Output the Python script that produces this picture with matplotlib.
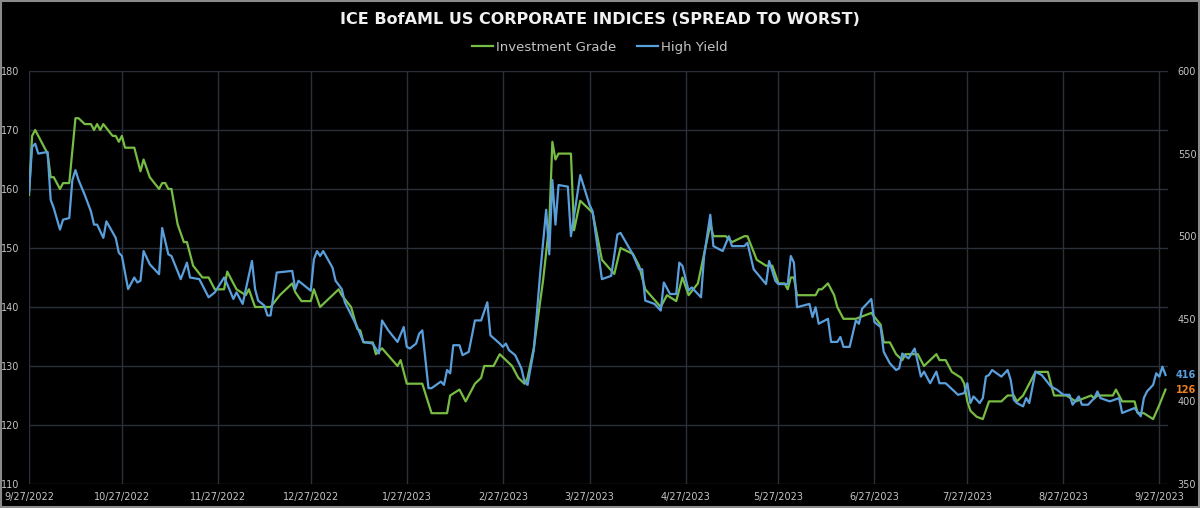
import matplotlib
matplotlib.use('Agg')
import matplotlib.pyplot as plt
from matplotlib.patches import Rectangle
import pandas as pd

START = pd.Timestamp('2022-09-27')

# day offsets from 9/27/2022 and spread values (bp)
IG_DAY = [0, 1, 2, 4, 6, 7, 8, 10, 11, 13, 15, 16, 18, 20, 21, 22, 23, 24, 27, 28,
          29, 30, 31, 34, 36, 37, 39, 42, 43, 44, 45, 46, 48, 50, 51, 53, 56, 58, 60, 63,
          64, 66, 67, 70, 71, 73, 78, 81, 83, 85, 86, 88, 91, 92, 94, 96, 98, 100, 101, 104,
          106, 107, 108, 111, 112, 114, 119, 120, 122, 127, 130, 135, 136, 139, 141, 144, 146, 147, 150, 152,
          154, 156, 158, 160, 161, 163, 166, 168, 169, 170, 171, 175, 176, 178, 182, 185, 189, 191, 195, 197,
          199, 204, 206, 209, 211, 213, 216, 218, 220, 221, 225, 227, 231, 232, 235, 238, 240, 242, 244, 245,
          246, 247, 248, 254, 255, 256, 258, 260, 261, 263, 267, 272, 275, 276, 278, 280, 282, 283, 287, 289,
          291, 293, 294, 296, 298, 301, 302, 303, 304, 306, 308, 310, 314, 316, 318, 319, 321, 325, 329, 331,
          335, 338, 343, 344, 345, 350, 351, 353, 357, 358, 360, 363, 365, 367]
IG_VAL = [159, 169, 170, 168, 166, 162, 162, 160, 161, 161, 172, 172, 171, 171, 170, 171, 170, 171, 169, 169,
          168, 169, 167, 167, 163, 165, 162, 160, 161, 161, 160, 160, 154, 151, 151, 147, 145, 145, 143, 143,
          146, 144, 143, 142, 143, 140, 140, 142, 143, 144, 142.5, 141, 141, 143, 140, 141, 142, 143, 142, 140,
          136.3, 136, 134, 134, 132, 133, 130, 131, 127, 127, 122, 122, 125, 126, 124, 127, 128, 130, 130, 132,
          131, 130, 128, 127, 128, 133, 144.5, 154, 168, 165, 166, 166, 153, 158, 156, 148, 145.6, 150, 149, 147,
          143, 140, 142, 141, 145, 142, 144, 149, 154, 152, 152, 151, 152, 152, 148, 147, 147, 144, 144, 143,
          145, 145, 142, 142, 143, 143, 144, 142, 140, 138, 138, 139, 137, 134, 134, 132, 131, 132, 132, 130,
          131, 132, 131, 131, 129, 128, 127, 124, 122.4, 121.4, 121, 124, 124, 125, 125, 124, 125, 129, 129, 125,
          125, 124, 125, 124.5, 125, 125, 126, 124, 124, 122, 122, 121, 123.4, 126]

HY_DAY = [0, 1, 2, 3, 6, 7, 8, 10, 11, 13, 14, 15, 16, 18, 20, 21, 22, 24, 25, 28,
          29, 30, 32, 34, 35, 36, 37, 39, 42, 43, 45, 46, 49, 51, 52, 55, 58, 60, 63, 64,
          66, 67, 69, 72, 73, 74, 76, 77, 78, 80, 85, 86, 87, 91, 92, 93, 94, 95, 98, 99,
          101, 102, 106, 108, 111, 113, 114, 116, 119, 121, 122, 123, 125, 126, 127, 129, 130, 133, 134, 135,
          136, 137, 139, 140, 142, 144, 146, 148, 149, 152, 153, 154, 155, 157, 159, 160, 161, 163, 165, 167,
          168, 169, 170, 171, 174, 175, 178, 181, 182, 185, 188, 190, 191, 195, 197, 198, 199, 202, 204, 205,
          207, 209, 210, 211, 213, 214, 217, 218, 220, 221, 224, 226, 227, 231, 232, 234, 238, 239, 241, 242,
          245, 246, 247, 248, 252, 253, 254, 255, 258, 259, 261, 262, 263, 265, 267, 268, 269, 272, 273, 275,
          276, 278, 280, 281, 282, 284, 286, 288, 289, 291, 293, 294, 296, 300, 302, 303, 304, 305, 307, 308,
          309, 310, 311, 314, 316, 317, 318, 319, 321, 322, 323, 325, 327, 330, 332, 334, 336, 337, 339, 340,
          342, 344, 345, 346, 349, 352, 353, 357, 359, 360, 361, 363, 364, 365, 366, 367]
HY_VAL = [526, 554, 556, 550, 551, 522, 517, 504, 510, 511, 534, 540, 534, 525, 515, 507, 507, 499, 509, 499,
          490, 488, 468, 475, 472, 473, 491, 483, 477, 505, 489, 488, 474, 484, 475, 474, 463, 466, 475, 471,
          462, 466, 459, 485, 468, 461, 458, 452, 452, 478, 479, 468, 473, 467, 486, 491, 488, 491, 481, 473,
          468, 460, 445, 436, 435, 429, 449, 443, 436, 445, 433, 432, 435, 441, 443, 408, 408, 412, 410, 419,
          417, 434, 434, 428, 430, 449, 449, 460, 440, 435, 433, 435, 431, 428, 420, 412, 410, 431, 476, 516,
          489, 534, 507, 531, 530, 500, 537, 519, 515, 474, 476, 501, 502, 489, 480, 480, 461, 459, 455, 472,
          465, 465, 484, 482, 467, 469, 463, 488, 513, 494, 491, 500, 494, 494, 496, 480, 471, 485, 473, 471,
          471, 488, 484, 457, 459, 451, 457, 447, 450, 436, 436, 439, 433, 433, 449, 447, 456, 462, 448, 445,
          430, 423, 419, 420, 429, 426, 432, 415, 418, 411, 418, 411, 411, 404, 405, 411, 399, 403, 399, 402,
          415, 416, 419, 415, 419, 413, 401, 399, 397, 402, 399, 418, 416, 409, 407, 404, 404, 398, 403, 398,
          398, 402, 406, 402, 400, 402, 393, 396, 391, 402, 406, 410, 417, 415, 421, 416]

TICK_LABELS = ['9/27/2022', '10/27/2022', '11/27/2022', '12/27/2022', '1/27/2023', '2/27/2023',
               '3/27/2023', '4/27/2023', '5/27/2023', '6/27/2023', '7/27/2023', '8/27/2023', '9/27/2023']
LEFT_TICKS = [110, 120, 130, 140, 150, 160, 170, 180]
RIGHT_TICKS = [350, 400, 450, 500, 550, 600]

GREEN = '#77bc43'
BLUE = '#5a9fdc'
ORANGE = '#f07f1d'
GRID = '#2a2f3a'
TXT = '#c4c4c4'

plt.rcParams['font.family'] = ['Liberation Sans Narrow', 'DejaVu Sans']

ig_dates = START + pd.to_timedelta(IG_DAY, unit='D')
hy_dates = START + pd.to_timedelta(HY_DAY, unit='D')

fig = plt.figure(figsize=(12, 5.08), dpi=100, facecolor='black')
ax = fig.add_axes([29 / 1200, 24 / 508, 1139 / 1200, 413 / 508])
ax.set_facecolor('black')
ax2 = ax.twinx()

l1, = ax.plot(ig_dates, IG_VAL, color=GREEN, lw=1.6, label='Investment Grade')
l2, = ax2.plot(hy_dates, HY_VAL, color=BLUE, lw=1.6, label='High Yield')

ax.set_xlim(START, START + pd.Timedelta(days=367.8))
ax.set_ylim(110, 180)
ax2.set_ylim(350, 600)
ax.set_yticks(LEFT_TICKS)
ax2.set_yticks(RIGHT_TICKS)
ax.set_xticks(pd.to_datetime(TICK_LABELS, format='%m/%d/%Y'))
ax.set_xticklabels(TICK_LABELS)

ax.grid(True, color=GRID, lw=1.0)
ax.set_axisbelow(True)
for a in (ax, ax2):
    for s in a.spines.values():
        s.set_visible(False)
ax.tick_params(axis='both', length=0, colors=TXT, labelsize=7)
ax.tick_params(axis='y', pad=7)
ax.tick_params(axis='x', pad=6)
ax2.tick_params(axis='y', length=0, colors=TXT, labelsize=7, pad=7)

# last value labels
ax2.annotate(str(HY_VAL[-1]), xy=(1, HY_VAL[-1]), xycoords=('axes fraction', 'data'),
             xytext=(8, 0), textcoords='offset pixels', va='center', ha='left',
             color=BLUE, fontsize=7, fontweight='bold')
ax.annotate(str(IG_VAL[-1]), xy=(1, IG_VAL[-1]), xycoords=('axes fraction', 'data'),
            xytext=(8, 0), textcoords='offset pixels', va='center', ha='left',
            color=ORANGE, fontsize=7, fontweight='bold')

fig.text(0.5, 1 - 19 / 508, 'ICE BofAML US CORPORATE INDICES (SPREAD TO WORST)',
         ha='center', va='center', color='#f0f0f0', fontsize=11.5, fontweight='bold')
fig.legend(handles=[l1, l2], loc='center', bbox_to_anchor=(0.5, 1 - 47 / 508), ncol=2,
           frameon=False, fontsize=9.5, labelcolor=TXT, handlelength=1.6,
           handletextpad=0.2, columnspacing=1.6)

fig.patches.append(Rectangle((0.001, 0.002), 0.998, 0.996, transform=fig.transFigure,
                             fill=False, edgecolor='#8a8a8a', lw=1.5))

fig.savefig('out.png', dpi=100, facecolor='black')
